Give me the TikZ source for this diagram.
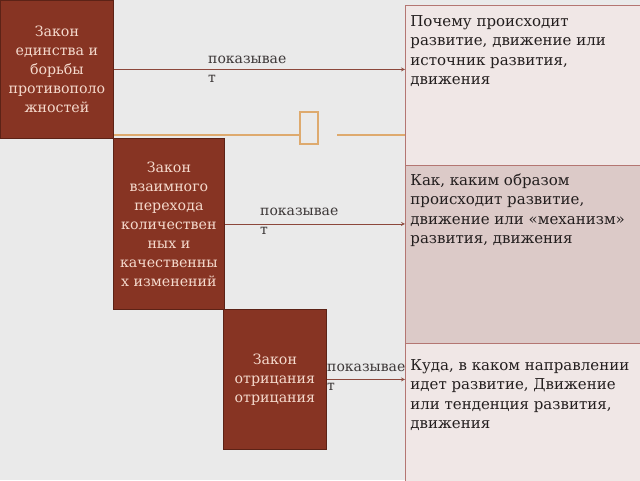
\documentclass[tikz,border=0pt]{standalone}
\usepackage{fontspec}
\setmainfont{DejaVu Serif}
\usetikzlibrary{positioning}

\definecolor{slidebg}{RGB}{234,234,234}
\definecolor{lawfill}{RGB}{135,52,35}
\definecolor{lawedge}{RGB}{92,34,22}
\definecolor{lawtext}{RGB}{245,218,205}
\definecolor{anslight}{RGB}{240,231,230}
\definecolor{ansdark}{RGB}{220,202,200}
\definecolor{ansedge}{RGB}{180,118,114}
\definecolor{anstext}{RGB}{35,30,30}
\definecolor{showcol}{RGB}{140,72,60}
\definecolor{lbltext}{RGB}{60,55,55}
\definecolor{trimcol}{RGB}{222,170,110}

\tikzset{
  law/.style={draw=lawedge, line width=0.8pt, fill=lawfill, text=lawtext,
    align=center, anchor=north west, inner sep=0pt,
    font=\fontsize{14.2}{19}\selectfont},
  answer/.style={draw=ansedge, line width=0.8pt, anchor=north west,
    inner xsep=5pt, inner ysep=0pt, text=anstext,
    font=\fontsize{15}{19.5}\selectfont},
  shows/.style={draw=showcol, line width=0.8pt, -stealth},
  showlbl/.style={text=lbltext, align=left, anchor=north west, inner sep=0pt,
    font=\fontsize{14}{18.5}\selectfont},
  trim/.style={draw=trimcol, line width=1.5pt}
}
% box body: height, first line height, text
\newcommand\anspar[3]{\parbox[c][#1][t]{226pt}{\raggedright\rule{0pt}{#2}#3}}

\begin{document}
\begin{tikzpicture}[x=1pt,y=-1pt]
  \fill[slidebg] (0,0) rectangle (640,480);
  \useasboundingbox (0,0) rectangle (640,480);
  % theme trim
  \draw[trim] (113,135) -- (300,135);
  \draw[trim, line width=2.2pt] (300,112) rectangle (318,144);
  \draw[trim] (337,135) -- (405,135);
  % laws
  \node[law, minimum width=113pt, minimum height=138pt] (unity) at (0,0)
    {Закон\\единства и\\борьбы\\противополо\\жностей};
  \node[law, minimum width=111pt, minimum height=171pt] (transit) at (113,138)
    {Закон\\взаимного\\перехода\\количествен\\ных и\\качественны\\х изменений};
  \node[law, minimum width=103pt, minimum height=140pt] (negation) at (223,309)
    {Закон\\отрицания\\отрицания};
  % what they show
  \node[answer, fill=anslight] (why) at (405,5)
    {\anspar{160pt}{21pt}{Почему происходит\\развитие, движение или\\источник развития,\\движения}};
  \node[answer, fill=ansdark] (how) at (405,165)
    {\anspar{178pt}{20pt}{Как, каким образом\\происходит развитие,\\движение или «механизм»\\развития, движения}};
  \node[answer, fill=anslight] (where) at (405,343)
    {\anspar{145pt}{27pt}{Куда, в каком направлении\\идет развитие, Движение\\или тенденция развития,\\движения}};
  % arrows
  \draw[shows] (unity.east) -- (unity.east -| why.west);
  \draw[shows] (transit.east) -- (transit.east -| how.west);
  \draw[shows] (negation.east) -- (negation.east -| where.west);
  \node[showlbl] (showsA) at (208,56) {показывае\\т};
  \node[showlbl] (showsB) at (260,208) {показывае\\т};
  \node[showlbl] (showsC) at (327,364) {показывае\\т};
\end{tikzpicture}
\end{document}
